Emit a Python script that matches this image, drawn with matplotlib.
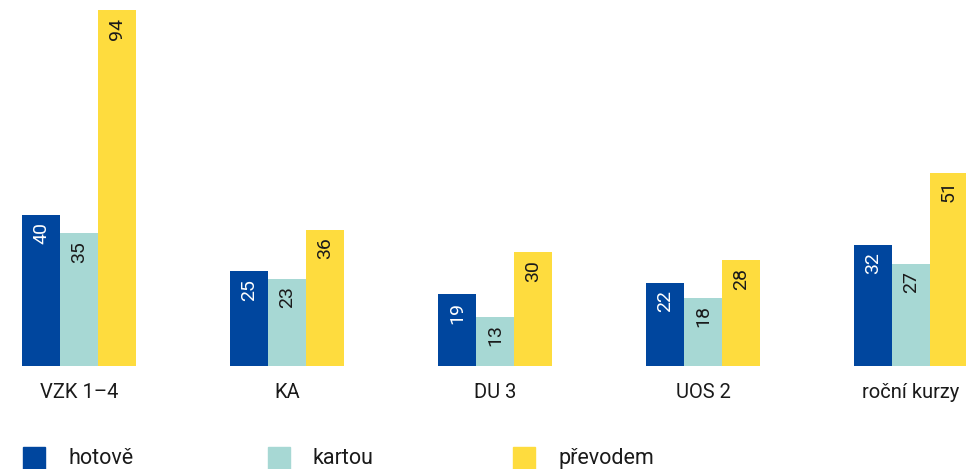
import numpy as np
import matplotlib.pyplot as plt
from matplotlib.patches import Rectangle

plt.rcParams['font.family'] = ['Roboto', 'DejaVu Sans']

# data
categories = ["VZK 1–4", "KA", "DU 3", "UOS 2", "roční kurzy"]
series_names = ["hotově", "kartou", "převodem"]
hotove = [40, 25, 19, 22, 32]
kartou = [35, 23, 13, 18, 27]
prevodem = [94, 36, 30, 28, 51]

colors = ["#00469E", "#A7D8D4", "#FEDC3E"]
text_colors = ["white", "#1a1a1a", "#1a1a1a"]

fig = plt.figure(figsize=(9.66, 4.69), dpi=100)
ax = fig.add_axes([0.0, 103 / 469, 1.0, 356 / 469])

x = np.arange(len(categories))
w = 0.1827
values = [hotove, kartou, prevodem]

for k, vals in enumerate(values):
    bars = ax.bar(x + (k - 1) * w, vals, width=w, color=colors[k], linewidth=0)
    for b, v in zip(bars, vals):
        ax.annotate(str(v), (b.get_x() + b.get_width() / 2, b.get_height()),
                    xytext=(0, -5.5), textcoords='offset points',
                    ha='center', va='top', rotation=90,
                    fontsize=14, color=text_colors[k])

ax.set_xlim(-79 / 208, 887 / 208)
ax.set_ylim(0, 94)
ax.set_xticks(x)
ax.set_xticklabels(categories, fontsize=14.5, color="#1a1a1a")
ax.tick_params(axis='x', length=0, pad=12.5)
ax.set_yticks([])
for s in ax.spines.values():
    s.set_visible(False)

# legend along the bottom edge
leg_x = [23, 268, 513]
for k, name in enumerate(series_names):
    fig.patches.append(Rectangle((leg_x[k] / 966, 0), 22 / 966, 22 / 469,
                                 transform=fig.transFigure, color=colors[k]))
    fig.text((leg_x[k] + 45) / 966, 11 / 469, name, fontsize=15.5,
             color="#1a1a1a", va='center', ha='left')

fig.savefig("out.png", dpi=100)
